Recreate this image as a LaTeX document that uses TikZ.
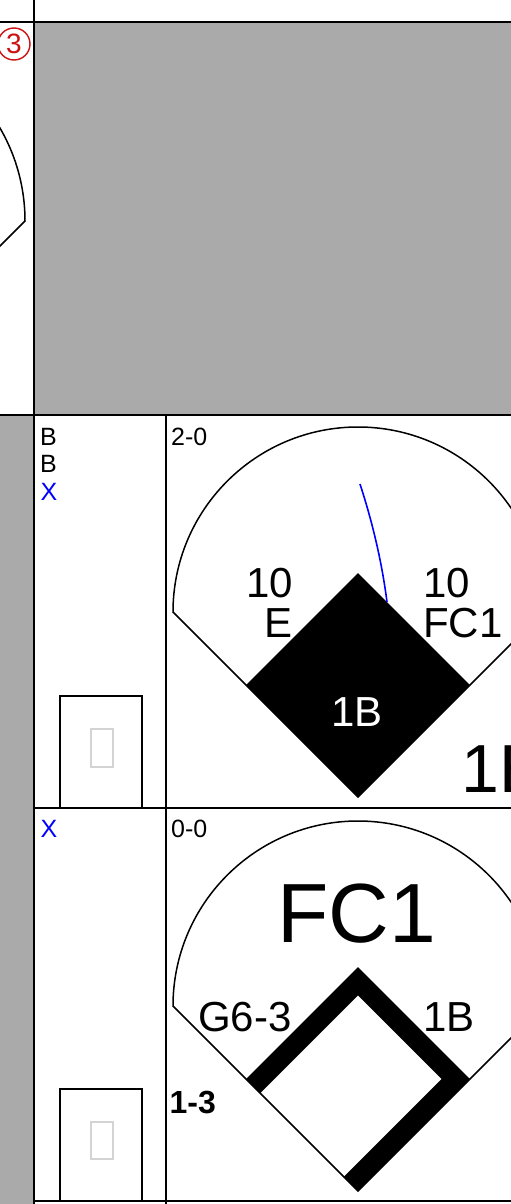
\documentclass[tikz,border=0pt]{standalone}
\usepackage{fontspec}
\setmainfont{Liberation Sans}
\definecolor{cellgray}{HTML}{AAAAAA}
\definecolor{ghost}{HTML}{D4D4D4}
\definecolor{circred}{HTML}{CC1111}
\begin{document}
\begin{tikzpicture}[x=1pt, y=-1pt,
  gridline/.style={line width=1.5pt},
  fieldline/.style={line width=1.5pt},
  pitchbox/.style={line width=1.6pt},
  ghostbox/.style={draw=ghost, line width=1.4pt},
  smalltxt/.style={inner sep=0, anchor=base west, font=\fontsize{25}{28}\selectfont},
  midtxt/.style={inner sep=0, font=\fontsize{42}{42}\selectfont},
  bigtxt/.style={inner sep=0, font=\fontsize{68}{68}\selectfont},
  hugetxt/.style={inner sep=0, font=\fontsize{84}{84}\selectfont},
  outtxt/.style={inner sep=0, anchor=base west, font=\fontsize{32}{32}\selectfont\bfseries},
  circnum/.style={circle, draw=circred, text=circred, line width=1.4pt, minimum size=32pt, inner sep=0, font=\fontsize{28}{28}\selectfont}
]
\useasboundingbox (0,0) rectangle (511,1204);
\clip (0,0) rectangle (511,1204);
\fill[cellgray] (34,22) rectangle (511,415);
\fill[cellgray] (0,415) rectangle (34,1204);

\draw[fieldline] (-160,406) -- (-345,221) arc[start angle=180, end angle=360, radius=185] -- cycle;
\node[circnum] (inn) at (14,44) {3};

\node[smalltxt] (b1) at (40,445) {B};
\node[smalltxt] (b2) at (40,472.5) {B};
\node[smalltxt, text=blue] (x1) at (40.5,500) {X};
\draw[pitchbox] (60,696) rectangle (142,808);
\draw[ghostbox] (91,729) rectangle (113,767);
\node[smalltxt] (cnt1) at (171,445) {2-0};
\draw[fieldline] (358,797) -- (173,612) arc[start angle=180, end angle=360, radius=185] -- cycle;
\fill (358,797) -- (246,685) -- (358,573) -- (470,685) -- cycle;
\coordinate (hitA) at (360,484);
\coordinate (hitB) at (387,602);
\draw[blue, line width=1.6pt] (hitA) .. controls (373,524) and (382,563) .. (hitB);
\node[midtxt, anchor=base east] (rbiL) at (293,597) {10};
\node[midtxt, anchor=base east] (errL) at (293,637) {E};
\node[midtxt, anchor=base west] (rbiR) at (423,597) {10};
\node[midtxt, anchor=base west] (fcR) at (423,637) {FC1};
\node[midtxt, anchor=base, text=white] (onA) at (357,726) {1B};
\node[bigtxt, anchor=base west] (resA) at (461.6,792) {1B};

\node[smalltxt, text=blue] (x2) at (40.5,837) {X};
\draw[pitchbox] (60,1089) rectangle (142,1201);
\draw[ghostbox] (91,1122) rectangle (113,1159);
\node[smalltxt] (cnt2) at (171,837) {0-0};
\draw[fieldline] (358,1191) -- (173,1006) arc[start angle=180, end angle=360, radius=185] -- cycle;
\draw[line width=20pt, line join=miter] (253.07,1086.07) -- (358,981.14) -- (455.86,1079) -- (350.93,1183.93);
\node[hugetxt, anchor=base] (resB) at (357,942) {FC1};
\node[midtxt, anchor=base west] (play) at (198,1031) {G6-3};
\node[midtxt, anchor=base west] (onB) at (423.4,1031) {1B};
\node[outtxt] (outB) at (169.5,1113) {1-3};

\draw[gridline] (0,22) -- (511,22);
\draw[gridline] (34,0) -- (34,1204);
\draw[gridline] (0,415) -- (511,415);
\draw[gridline] (166,415) -- (166,1204);
\draw[gridline] (34,808) -- (511,808);
\draw[gridline] (34,1201) -- (511,1201);
\end{tikzpicture}
\end{document}
